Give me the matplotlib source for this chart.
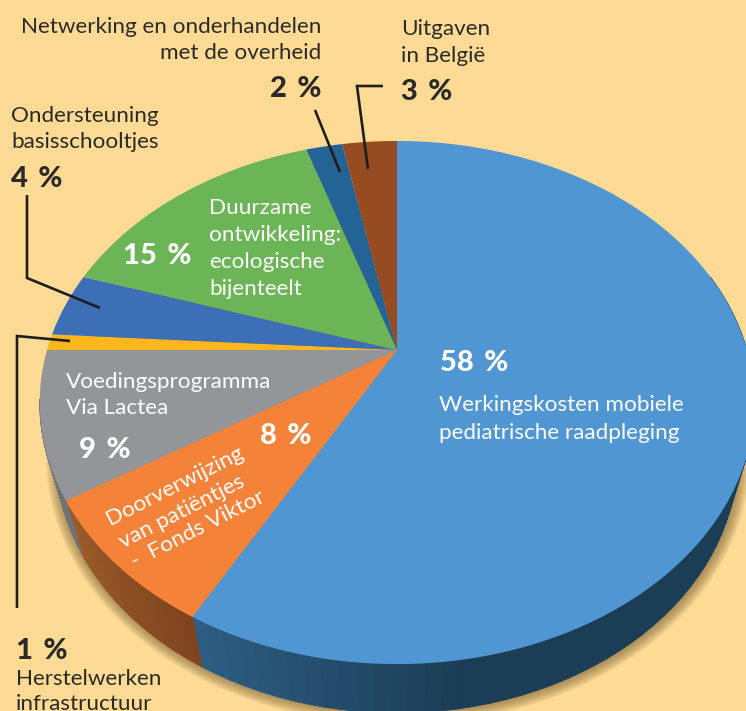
import numpy as np
import matplotlib
matplotlib.use("Agg")
import matplotlib.pyplot as plt
from matplotlib.patches import Ellipse
from matplotlib.path import Path
from matplotlib.transforms import Transform, Affine2D
from matplotlib.colors import to_rgb

plt.rcParams['font.family'] = ['Lato', 'DejaVu Sans']

slices = ["Werkingskosten", "Doorverwijzing", "Voedingsprogramma", "Herstelwerken",
          "Ondersteuning", "Duurzame", "Netwerking", "Uitgaven"]
values = [58, 8, 9, 1, 4, 15, 2, 3]
colors = ["#4F96D2", "#F58239", "#939598", "#FDB71A", "#3D6FB6", "#6CB556", "#246395", "#964B20"]

BG = "#FEDB95"
INK = "#2B2A29"
CX, CY, A, B, C = 397.0, 350.0, 251.0, 350.0, 0.2008
TOP_CY, TOP_RX, TOP_RY = 402.0, 357.0, 261.0
BOT_CY, BOT_RX, BOT_RY = 457.0, 340.0, 255.0


def project(xy):
    xy = np.asarray(xy, float)
    u, v = xy[..., 0], xy[..., 1]
    d = 1 + C * v
    return np.stack([CX + B * u / d, CY - A * v / d], axis=-1)


class Perspective(Transform):
    input_dims = output_dims = 2
    is_separable = False
    has_inverse = False

    def transform_non_affine(self, values):
        return project(values)

    def transform_path_non_affine(self, path):
        poly = Affine2D().scale(2000).transform_path(path).to_polygons(closed_only=True)[0] / 2000
        return Path(project(poly), closed=True)


fig = plt.figure(figsize=(7.46, 7.11), dpi=100, facecolor=BG)
ax = fig.add_axes([0, 0, 1, 1])

wedges, _ = ax.pie(values, colors=colors, startangle=90, counterclock=False,
                   wedgeprops=dict(linewidth=0, antialiased=True))
P = Perspective()
for w in wedges:
    w.set_transform(P + ax.transData)
    w.set_zorder(5)

ax.set_xlim(0, 746)
ax.set_ylim(711, 0)
ax.set_aspect('auto')
ax.axis('off')

# soft shadow
for d in range(12, 0, -1):
    ax.add_patch(Ellipse((CX + 1, BOT_CY + 1), 2 * (BOT_RX + d), 2 * (BOT_RY + d),
                         facecolor="#7A6236", edgecolor='none', alpha=0.07, zorder=1))


def top_edge(frac):
    a = 2 * np.pi * np.asarray(frac)
    return project(np.stack([np.sin(a), np.cos(a)], axis=-1))


def wall_pt(frac):
    p = top_edge(frac)
    q = np.empty_like(p)
    q[..., 0] = CX + BOT_RX * (p[..., 0] - CX) / TOP_RX
    q[..., 1] = BOT_CY + BOT_RY * (p[..., 1] - TOP_CY) / TOP_RY
    return p, q


def shade(col0, col1, t):
    return tuple((1 - t) * np.array(to_rgb(col0)) + t * np.array(to_rgb(col1)))


cum = np.cumsum([0] + values) / sum(values)
for i, (f0, f1) in enumerate(zip(cum[:3], cum[1:4])):
    f_start = max(f0, 0.20)
    f_end = min(f1, 0.72)
    fs = np.linspace(f_start, f_end, 60)
    p, q = wall_pt(fs)
    for k in range(len(fs) - 1):
        if i == 0:
            t = np.clip((fs[k] - 0.47) / (0.58 - 0.47), 0, 1)
            col = shade("#1B3D55", "#2F5F85", t)
        elif i == 1:
            t = (fs[k] - f_start) / (f_end - f_start)
            col = shade("#7F441F", "#9C5C2C", t)
        else:
            col = to_rgb("#6D7278")
        ax.fill([p[k, 0], p[k + 1, 0], q[k + 1, 0], q[k, 0]],
                [p[k, 1], p[k + 1, 1], q[k + 1, 1], q[k, 1]],
                facecolor=col, edgecolor=col, linewidth=0.6, zorder=3)

# leader lines
leaders = [
    ([315, 340], [110, 172]),
    ([383, 357, 368], [86, 86, 169]),
    ([27, 27, 100], [195, 278, 308]),
    ([17, 17, 70], [608, 336, 341]),
]
for xs, ys in leaders:
    ax.plot(xs, ys, color="#1E1E1E", lw=1.9, solid_joinstyle='miter', solid_capstyle='butt', zorder=8)

FS = 16.2
FB = 21
W = "white"
dark_labels = [
    ("Netwerking en onderhandelen", 321, 33, 'right'),
    ("met de overheid", 321, 59, 'right'),
    ("Uitgaven", 401, 35, 'left'),
    ("in België", 401, 62, 'left'),
    ("Ondersteuning", 11, 122, 'left'),
    ("basisschooltjes", 11, 148, 'left'),
    ("Herstelwerken", 16, 685, 'left'),
    ("infrastructuur", 16, 710, 'left'),
]
for s, x, y, ha in dark_labels:
    ax.text(x, y, s, color=INK, fontsize=FS, ha=ha, va='baseline', zorder=9, clip_on=False)

dark_pct = [("2\u2009 %", 321, 97, 'right'), ("3\u2009 %", 401, 100, 'left'),
            ("4\u2009 %", 11, 187, 'left'), ("1\u2009 %", 16, 659, 'left')]
for s, x, y, ha in dark_pct:
    ax.text(x, y, s, color=INK, fontsize=FB, fontweight='black', ha=ha, va='baseline', zorder=9)

white_labels = [
    ("Duurzame", 209, 214), ("ontwikkeling:", 209, 241), ("ecologische", 209, 268), ("bijenteelt", 209, 295),
    ("Werkingskosten mobiele", 439, 411), ("pediatrische raadpleging", 439, 439),
    ("Voedingsprogramma", 66, 388), ("Via Lactea", 66, 414),
]
for s, x, y in white_labels:
    ax.text(x, y, s, color=W, fontsize=FS, ha='left', va='baseline', zorder=9)

white_pct = [("15\u2009 %", 123, 264), ("58\u2009 %", 440, 371), ("9\u2009 %", 79, 458), ("8\u2009 %", 260, 444)]
for s, x, y in white_pct:
    ax.text(x, y, s, color=W, fontsize=FB, fontweight='black', ha='left', va='baseline', zorder=9)

rotated = [("Doorverwijzing", 110, 525), ("van patiëntjes", 123, 548), ("-  Fonds Viktor", 135, 568)]
for s, x, y in rotated:
    ax.text(x, y, s, color=W, fontsize=FS, rotation=27, rotation_mode='anchor',
            ha='left', va='baseline', zorder=9)

fig.savefig("out.png", dpi=100, facecolor=BG)
